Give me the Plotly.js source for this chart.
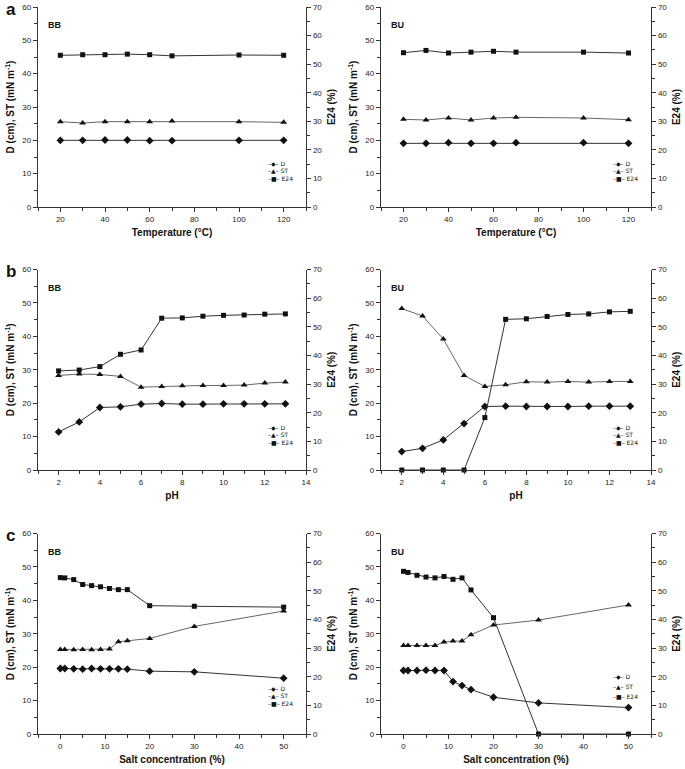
<!DOCTYPE html>
<html>
<head>
<meta charset="utf-8">
<script src="https://cdn.plot.ly/plotly-3.0.1.min.js"></script>
<style>html,body{margin:0;padding:0;background:#fff}#chart{width:685px;height:769px}</style>
</head>
<body>
<div id="chart"></div>
<script>
// ---- data ----
const tempX = [20, 30, 40, 50, 60, 70, 100, 120];
const aBB_D   = [20.0, 20.0, 20.1, 20.1, 19.9, 19.9, 20.0, 20.0];
const aBB_ST  = [25.6, 25.2, 25.6, 25.6, 25.6, 25.8, 25.6, 25.4];
const aBB_E24 = [53.1, 53.3, 53.3, 53.5, 53.3, 52.9, 53.2, 53.1];
const aBU_D   = [19.1, 19.1, 19.3, 19.1, 19.1, 19.3, 19.3, 19.1];
const aBU_ST  = [26.3, 26.1, 26.7, 26.1, 26.7, 26.9, 26.7, 26.2];
const aBU_E24 = [54.0, 54.8, 53.9, 54.2, 54.5, 54.2, 54.2, 53.9];

const pHX = [2, 3, 4, 5, 6, 7, 8, 9, 10, 11, 12, 13];
const bBB_D   = [11.4, 14.4, 18.7, 18.9, 19.7, 19.9, 19.7, 19.7, 19.8, 19.8, 19.8, 19.8];
const bBB_ST  = [28.3, 28.7, 28.6, 28.0, 24.8, 25.0, 25.2, 25.3, 25.3, 25.4, 26.0, 26.3];
const bBB_E24 = [34.6, 34.9, 36.1, 40.4, 41.9, 53.0, 53.1, 53.7, 54.0, 54.1, 54.4, 54.5];
const bBU_D   = [5.5, 6.5, 9.0, 13.9, 19.0, 19.1, 19.0, 19.0, 19.0, 19.1, 19.1, 19.1];
const bBU_ST  = [48.3, 46.1, 39.2, 28.3, 25.0, 25.5, 26.4, 26.3, 26.5, 26.3, 26.5, 26.5];
const bBU_E24 = [0, 0, 0, 0, 18.3, 52.6, 52.8, 53.6, 54.3, 54.5, 55.2, 55.4];

const saltX = [0, 1, 3, 5, 7, 9, 11, 13, 15, 20, 30, 50];
const cBB_D   = [19.6, 19.6, 19.5, 19.4, 19.6, 19.5, 19.5, 19.5, 19.4, 18.8, 18.6, 16.7];
const cBB_ST  = [25.3, 25.3, 25.2, 25.3, 25.2, 25.3, 25.4, 27.6, 27.9, 28.6, 32.2, 36.8];
const cBB_E24 = [54.6, 54.5, 53.9, 52.2, 51.8, 51.4, 50.8, 50.4, 50.4, 44.8, 44.6, 44.3];
const cBU_D   = [19.0, 19.0, 19.0, 19.1, 19.0, 19.0, 15.7, 14.5, 13.3, 11.0, 9.3, 7.9];
const cBU_ST  = [26.5, 26.5, 26.5, 26.5, 26.5, 27.5, 27.8, 27.8, 29.7, 32.6, 34.1, 38.6];
const cBU_E24 = [56.8, 56.4, 55.4, 54.8, 54.5, 55.0, 54.0, 54.5, 50.3, 40.6, 0, 0];

const seriesNames = ['D', 'ST', 'E24'];
const panelLabels = ['BB', 'BU'];
const rowLetters = ['a', 'b', 'c'];
const xTitles = ['Temperature (°C)', 'pH', 'Salt concentration (%)'];
const yLeftTitle = 'D (cm), ST (mN m<sup>-1</sup>)';
const yRightTitle = 'E24 (%)';

// ---- layout geometry ----
const W = 685, H = 769;
const colPx = [[38, 306], [381, 651]];
const rowPx = [[7, 207], [269.5, 470], [533.5, 734]];
const px = v => v / W;
const py = v => 1 - v / H;

const rowSpec = [
  {x: tempX, range: [10, 130], dtick: 20, minor: 10, data: [[aBB_D, aBB_ST, aBB_E24], [aBU_D, aBU_ST, aBU_E24]]},
  {x: pHX, range: [1, 14], dtick: 2, minor: 1, data: [[bBB_D, bBB_ST, bBB_E24], [bBU_D, bBU_ST, bBU_E24]]},
  {x: saltX, range: [-5, 55], dtick: 10, minor: 5, data: [[cBB_D, cBB_ST, cBB_E24], [cBU_D, cBU_ST, cBU_E24]]}
];
// legend offsets (px above plot bottom) per row/col
const legendOffs = [
  [[44, 36.5, 29], [44, 36.5, 29]],
  [[43, 35.5, 28], [43, 35.5, 28]],
  [[46, 38.5, 31], [58, 48, 38]]
];

const FONT = 'Liberation Sans, Arial, sans-serif';
const AX = '#333';
const tickFont = {family: FONT, size: 8, color: '#222'};
const titleFont = {family: FONT, size: 10, color: '#111', weight: 'bold'};
const symbols = ['diamond', 'triangle-up', 'square'];
const msize = [6, 6, 5];

const traces = [];
const layout = {
  width: W, height: H,
  margin: {l: 0, r: 0, t: 0, b: 0},
  paper_bgcolor: '#fff', plot_bgcolor: '#fff',
  showlegend: false,
  annotations: [],
  font: {family: FONT}
};

const axName = (prefix, i) => prefix + 'axis' + (i === 1 ? '' : i);
const axRef = (prefix, i) => prefix + (i === 1 ? '' : i);

let p = 0;
for (let r = 0; r < 3; r++) {
  for (let c = 0; c < 2; c++) {
    p++;
    const spec = rowSpec[r];
    const xi = p, yl = 2 * p - 1, yr = 2 * p, xt = 6 + p;
    const xd = [px(colPx[c][0]), px(colPx[c][1])];
    const yd = [py(rowPx[r][1]), py(rowPx[r][0])];

    layout[axName('x', xi)] = {
      domain: xd, anchor: axRef('y', yl), range: spec.range, dtick: spec.dtick, tick0: 0,
      showgrid: false, zeroline: false, showline: true, linecolor: AX, linewidth: 1.3,
      ticks: 'outside', ticklen: 4, tickwidth: 1, tickcolor: AX,
      minor: {dtick: spec.minor, tick0: 0, ticks: 'outside', ticklen: 2.5, tickcolor: AX},
      tickfont: tickFont, automargin: false,
      title: {text: xTitles[r], font: titleFont, standoff: 6}
    };
    layout[axName('x', xt)] = {
      overlaying: axRef('x', xi), side: 'top', anchor: axRef('y', yl), range: spec.range,
      dtick: spec.dtick, tick0: 0, showgrid: false, zeroline: false, showline: true,
      linecolor: AX, linewidth: 1.3, ticks: 'inside', ticklen: 4, tickcolor: AX,
      minor: {dtick: spec.minor, tick0: 0, ticks: 'inside', ticklen: 2.5, tickcolor: AX},
      showticklabels: false, automargin: false
    };
    layout[axName('y', yl)] = {
      domain: yd, anchor: axRef('x', xi), range: [0, 60], dtick: 10,
      showgrid: false, zeroline: false, showline: true, linecolor: AX, linewidth: 1.3,
      ticks: 'outside', ticklen: 4, tickcolor: AX,
      minor: {dtick: 5, ticks: 'outside', ticklen: 2.5, tickcolor: AX},
      tickfont: tickFont, automargin: false,
      title: {text: yLeftTitle, font: titleFont, standoff: 5}
    };
    layout[axName('y', yr)] = {
      overlaying: axRef('y', yl), side: 'right', anchor: axRef('x', xi), range: [0, 70], dtick: 10,
      showgrid: false, zeroline: false, showline: true, linecolor: AX, linewidth: 1.3,
      ticks: 'outside', ticklen: 4, tickcolor: AX,
      minor: {dtick: 5, ticks: 'outside', ticklen: 2.5, tickcolor: AX},
      tickfont: tickFont, automargin: false,
      title: {text: yRightTitle, font: titleFont, standoff: 6}
    };

    const vals = spec.data[c];
    for (let s = 0; s < 3; s++) {
      traces.push({
        type: 'scatter', mode: 'lines+markers', name: seriesNames[s],
        x: spec.x, y: vals[s],
        xaxis: axRef('x', xi), yaxis: axRef('y', s === 2 ? yr : yl),
        line: {color: s === 1 ? '#666' : '#333', width: 1},
        marker: {symbol: symbols[s], size: msize[s], color: '#111'},
        cliponaxis: false, showlegend: false
      });
    }

    // panel label BB / BU
    layout.annotations.push({
      xref: 'paper', yref: 'paper', x: px(colPx[c][0] + 8), y: py(rowPx[r][0] + 18),
      xanchor: 'left', yanchor: 'middle', showarrow: false,
      text: panelLabels[c], font: {family: FONT, size: 9, color: '#111', weight: 'bold'}
    });
    // compact legend
    const glyphs = ['–◆–', '–▲–', '–■–'];
    const offs = legendOffs[r][c];
    for (let s = 0; s < 3; s++) {
      layout.annotations.push({
        xref: 'paper', yref: 'paper', x: px(colPx[c][1] - 40), y: py(rowPx[r][1] - offs[s]),
        xanchor: 'left', yanchor: 'middle', showarrow: false,
        text: glyphs[s] + ' ' + seriesNames[s],
        font: {family: 'DejaVu Sans', size: 6, color: '#111'}
      });
    }
  }
  // row letter
  layout.annotations.push({
    xref: 'paper', yref: 'paper', x: px(4), y: py(rowPx[r][0] + 2),
    xanchor: 'left', yanchor: 'middle', showarrow: false,
    text: rowLetters[r], font: {family: FONT, size: 17, color: '#111', weight: 'bold'}
  });
}

Plotly.newPlot('chart', traces, layout, {displayModeBar: false, staticPlot: true});
</script>
</body>
</html>
